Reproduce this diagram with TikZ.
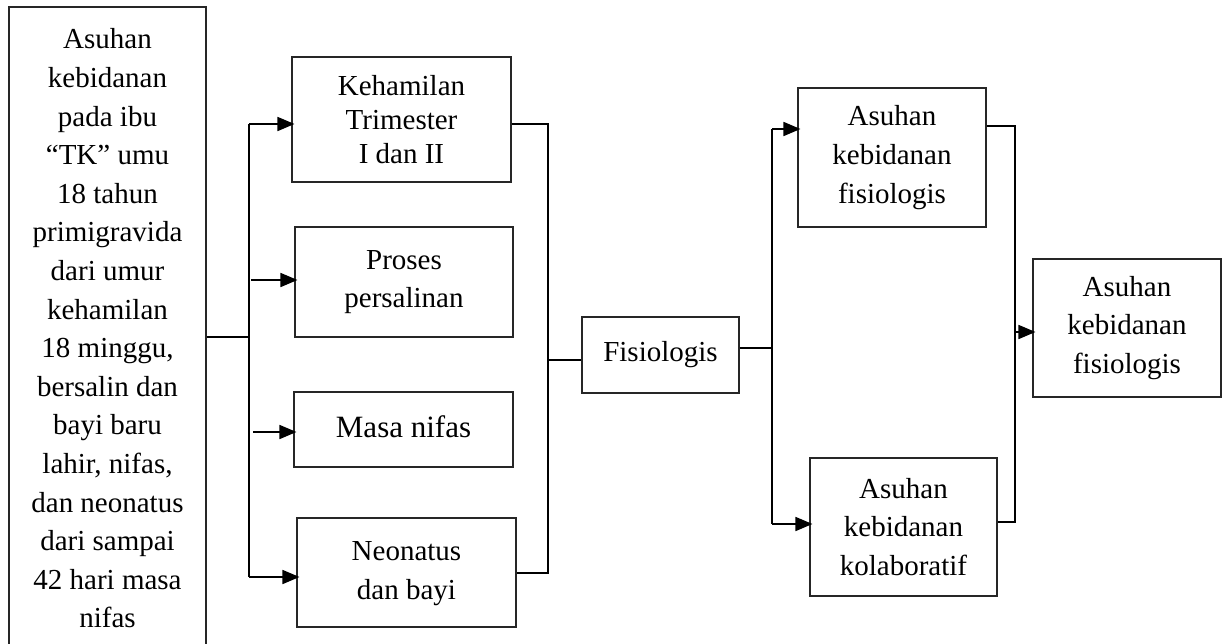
\documentclass[tikz,border=0pt]{standalone}
\usepackage{fontspec}
\setmainfont{Liberation Serif}
\usetikzlibrary{arrows.meta}
\tikzset{
  box/.style={draw=black!85, line width=1.1pt, rectangle, inner sep=0pt, align=center,
    font=\fontsize{29}{38.6}\selectfont},
  conn/.style={draw=black, line width=1.7pt},
  arr/.style={conn, -{Triangle[length=17pt,width=14pt]}, shorten >=-3pt},
}
\begin{document}
\begin{tikzpicture}[x=1pt,y=-1pt]
\useasboundingbox (0,0) rectangle (1225,643);
% nodes
\node[box, minimum width=197, minimum height=643] (L) at (107.5,328.5)
  {Asuhan\\kebidanan\\pada ibu\\“TK” umu\\18 tahun\\primigravida\\dari umur\\kehamilan\\18 minggu,\\bersalin dan\\bayi baru\\lahir, nifas,\\dan neonatus\\dari sampai\\42 hari masa\\nifas};
\node[box, minimum width=219, minimum height=125, font=\fontsize{29}{34}\selectfont] (B1) at (401.5,119.5)
  {Kehamilan\\Trimester\\I dan II};
\node[box, minimum width=218, minimum height=110] (B2) at (404,282)
  {Proses\\persalinan};
\node[box, minimum width=219, minimum height=75, font=\fontsize{31}{38}\selectfont] (B3) at (403.5,429.5)
  {\raisebox{5pt}{Masa nifas}};
\node[box, minimum width=219, minimum height=109] (B4) at (406.5,572.5)
  {\raisebox{6pt}{\begin{tabular}{@{}c@{}}Neonatus\\dan bayi\end{tabular}}};
\node[box, minimum width=157, minimum height=76] (F) at (660.5,355)
  {\raisebox{6pt}{Fisiologis}};
\node[box, minimum width=188, minimum height=139] (A1) at (892,157.5)
  {Asuhan\\kebidanan\\fisiologis};
\node[box, minimum width=187, minimum height=138] (A2) at (903.5,527)
  {Asuhan\\kebidanan\\kolaboratif};
\node[box, minimum width=188, minimum height=138] (A3) at (1127,328)
  {Asuhan\\kebidanan\\fisiologis};
% left trunk
\coordinate (j1) at (249,337);
\coordinate (a1) at (249,124);
\coordinate (a2) at (251,280);
\coordinate (a3) at (253,432);
\coordinate (a4) at (249,577);
\draw[conn] (L.east |- j1) -- (j1);
\draw[conn] (a1) -- (a4);
\draw[arr] (a1) -- (B1.west |- a1);
\draw[arr] (a2) -- (B2.west |- a2);
\draw[arr] (a3) -- (B3.west |- a3);
\draw[arr] (a4) -- (B4.west |- a4);
% middle trunk
\coordinate (r1) at (548,124);
\coordinate (r2) at (548,360);
\coordinate (r4) at (548,573);
\draw[conn] (B1.east |- r1) -- (r1) -- (r4) -- (B4.east |- r4);
\draw[conn] (r2) -- (F.west |- r2);
% fisiologis trunk
\coordinate (f0) at (772,348);
\coordinate (f1) at (772,129);
\coordinate (f2) at (772,524);
\draw[conn] (F.east |- f0) -- (f0);
\draw[conn] (f1) -- (f2);
\draw[arr] (f1) -- (A1.west |- f1);
\draw[arr] (f2) -- (A2.west |- f2);
% right trunk
\coordinate (g1) at (1015,126);
\coordinate (g0) at (1015,332);
\coordinate (g2) at (1015,522);
\draw[conn] (A1.east |- g1) -- (g1) -- (g2) -- (A2.east |- g2);
\draw[arr] (g0) -- (A3.west |- g0);
\end{tikzpicture}
\end{document}
